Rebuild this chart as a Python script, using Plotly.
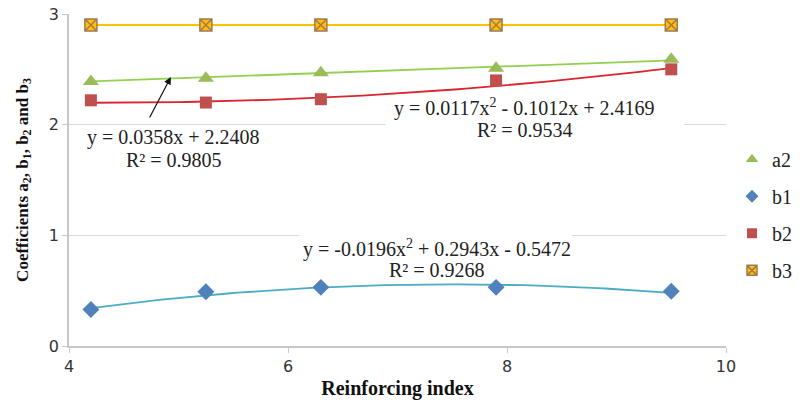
import numpy as np
import plotly.graph_objects as go

# ---- data ----
x_index = [4.2, 5.25, 6.3, 7.9, 9.5]
a2 = [2.39, 2.42, 2.47, 2.51, 2.59]
b1 = [0.33, 0.49, 0.53, 0.53, 0.495]
b2 = [2.22, 2.20, 2.23, 2.40, 2.50]
b3 = [2.9, 2.9, 2.9, 2.9, 2.9]
series_names = ["a2", "b1", "b2", "b3"]

# trendline coefficients (as printed on the chart)
a2_fit = [0.0358, 2.2408]
b1_fit = [-0.0196, 0.2943, -0.5472]
b2_fit = [0.0117, -0.1012, 2.4169]

a2_eq, a2_r2 = "y = 0.0358x + 2.2408", "R² = 0.9805"
b2_eq, b2_r2 = "y = 0.0117x<sup>2</sup> - 0.1012x + 2.4169", "R² = 0.9534"
b1_eq, b1_r2 = "y = -0.0196x<sup>2</sup> + 0.2943x - 0.5472", "R² = 0.9268"

SERIF = "Liberation Serif, Times New Roman, serif"
SANS = "DejaVu Sans, Verdana, sans-serif"

C_A2, C_B1, C_B2, C_B3 = "#9BBB59", "#4F81BD", "#C0504D", "#FFC000"

xt = np.linspace(min(x_index), max(x_index), 80)

fig = go.Figure()

# lines / trendlines
fig.add_trace(go.Scatter(x=x_index, y=b3, mode="lines", line=dict(color=C_B3, width=2),
                         showlegend=False, hoverinfo="skip"))
fig.add_trace(go.Scatter(x=xt, y=np.polyval(a2_fit, xt), mode="lines",
                         line=dict(color="#92D050", width=1.8), showlegend=False, hoverinfo="skip"))
fig.add_trace(go.Scatter(x=xt, y=np.polyval(b2_fit, xt), mode="lines",
                         line=dict(color="#D9262E", width=1.8), showlegend=False, hoverinfo="skip"))
fig.add_trace(go.Scatter(x=xt, y=np.polyval(b1_fit, xt), mode="lines",
                         line=dict(color="#4BACC6", width=1.8), showlegend=False, hoverinfo="skip"))

# data markers
mk = [
    (a2, dict(symbol="triangle-up", color=C_A2)),
    (b1, dict(symbol="diamond", color=C_B1)),
    (b2, dict(symbol="square", color=C_B2)),
    (b3, dict(symbol="square-x", color=C_B3, line=dict(color="#A0785A", width=1.5))),
]
sizes = [14, 13, 12, 12]
for (vals, m), s, nm in zip(mk, sizes, series_names):
    fig.add_trace(go.Scatter(x=x_index, y=vals, mode="markers", name=nm, showlegend=False,
                             marker=dict(size=s, **m)))
# legend-only entries (smaller symbols, like the reference legend)
leg_sizes = [11, 10, 10, 10]
for (vals, m), s, nm in zip(mk, leg_sizes, series_names):
    fig.add_trace(go.Scatter(x=[None], y=[None], mode="markers", name=nm, legendgroup=nm,
                             marker=dict(size=s, **m)))

ann_font = dict(family=SERIF, size=20, color="#222222")
for xx, yy, txt in [(4.955, 1.887, a2_eq), (4.955, 1.679, a2_r2),
                    (8.162, 2.158, b2_eq), (8.162, 1.950, b2_r2),
                    (7.36, 0.882, b1_eq), (7.36, 0.683, b1_r2)]:
    fig.add_annotation(x=xx, y=yy, text=txt, showarrow=False, font=ann_font,
                       xref="x", yref="y")

# white label boxes (hide gridlines behind the trendline labels)
fig.add_shape(type="rect", xref="x", yref="y", x0=6.89, x1=9.62, y0=1.86, y1=2.265,
              fillcolor="white", line=dict(width=0), layer="between")
fig.add_shape(type="rect", xref="x", yref="y", x0=6.10, x1=8.59, y0=0.62, y1=1.02,
              fillcolor="white", line=dict(width=0), layer="between")

# arrow pointing to the a2 trendline
fig.add_annotation(x=4.93, y=2.43, ax=-22, ay=42, text="", showarrow=True,
                   arrowhead=2, arrowsize=1.2, arrowwidth=1.2, arrowcolor="#111111",
                   xref="x", yref="y")

fig.update_layout(
    width=807, height=404,
    margin=dict(l=69, r=0, t=14, b=58),
    paper_bgcolor="white", plot_bgcolor="white",
    showlegend=True,
    legend=dict(x=1.0, y=0.395, xanchor="right", yanchor="middle",
                font=dict(family=SERIF, size=20, color="#222222"),
                tracegroupgap=8, itemwidth=30, itemsizing="trace", bgcolor="rgba(0,0,0,0)"),
    xaxis=dict(range=[4, 10], domain=[0, 0.9025], tickvals=[4, 6, 8, 10], showgrid=False,
               showline=True, linecolor="#C8C8C8", linewidth=1.5,
               ticks="outside", ticklen=5, tickcolor="#C8C8C8",
               tickfont=dict(family=SANS, size=16, color="#333333"),
               zeroline=False,
               title=dict(text="<b>Reinforcing index</b>", font=dict(family=SERIF, size=20, color="#111111"),
                          standoff=6)),
    yaxis=dict(range=[0, 3], tickvals=[0, 1, 2, 3], showgrid=True, gridcolor="#D9D9D9", gridwidth=1,
               showline=True, linecolor="#C8C8C8", linewidth=1.5,
               ticks="outside", ticklen=5, tickcolor="#C8C8C8",
               tickfont=dict(family=SANS, size=16, color="#333333"),
               zeroline=False,
               title=dict(text="<b>Coefficients a<sub>2</sub>, b<sub>1</sub>, b<sub>2</sub> and b<sub>3</sub></b>",
                          font=dict(family=SERIF, size=17, color="#111111"), standoff=16)),
)

fig.write_html("out.html")
